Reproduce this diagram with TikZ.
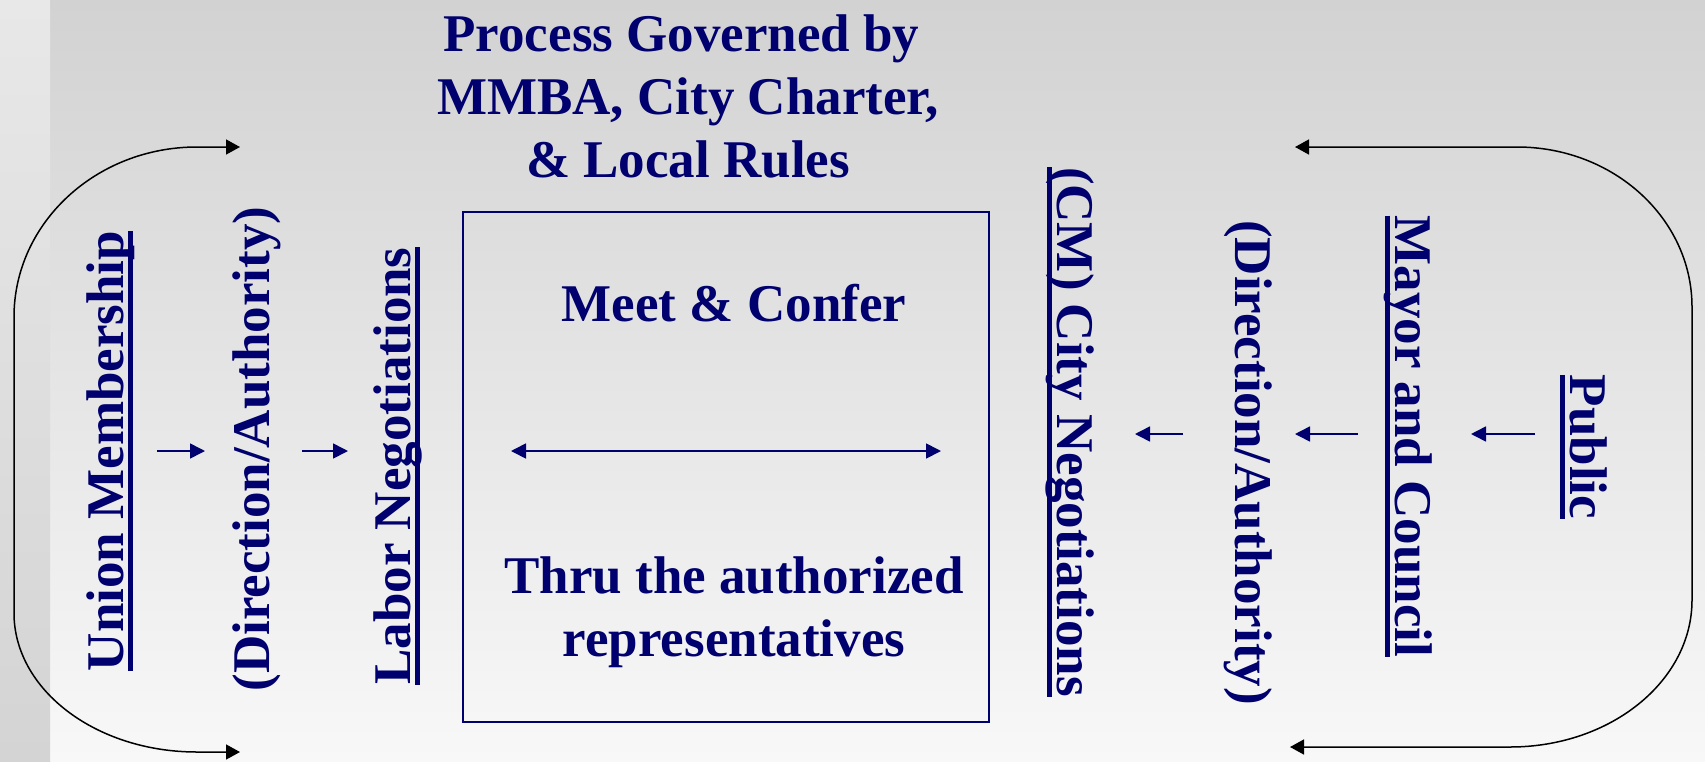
\documentclass[tikz,border=0pt]{standalone}
\usepackage{fontspec}
\setmainfont{Liberation Serif}
\usetikzlibrary{arrows.meta}
\definecolor{navy}{RGB}{0,0,110}
\definecolor{bgtop}{RGB}{210,210,210}
\definecolor{bgbot}{RGB}{248,248,248}
\definecolor{striptop}{RGB}{232,232,232}
\definecolor{stripbot}{RGB}{212,212,212}
% underline drawn at a fixed depth below the baseline
\newcommand\ulword[1]{\setbox0\hbox{#1}\rlap{\rule[-0.19em]{\wd0}{0.09em}}\box0}
\begin{document}
\begin{tikzpicture}[x=1pt,y=1pt,
  big/.style={text=navy,font=\bfseries\fontsize{53}{63}\selectfont,inner sep=0pt},
  head/.style={big,align=center},
  upword/.style={big,rotate=90,anchor=base},
  downword/.style={big,rotate=-90,anchor=base},
  flow/.style={draw=navy,line width=1.6pt,-{Triangle[length=15pt,width=15pt]}},
  loop/.style={draw=black,line width=1.5pt,{Triangle[length=14pt,width=15pt]}-{Triangle[length=14pt,width=15pt]}}]
\useasboundingbox (0,0) rectangle (1705,-761);
% background
\shade[top color=bgtop,bottom color=bgbot] (50,0) rectangle (1705,-761);
\shade[top color=striptop,bottom color=stripbot] (0,0) rectangle (50,-761);

% heading
\node[head] (title) at (688,-96) {Process Governed by\kern13pt\\MMBA, City Charter,\\\& Local Rules};

% central box
\node[draw=navy,line width=2pt,minimum width=526pt,minimum height=510pt,inner sep=0pt] (box) at (726,-467) {};
\node[big,anchor=base] (meet) at (734,-321) {Meet \& Confer};
\node[big,align=center] (thru) at (734,-612.3) {Thru the authorized\\representatives};
\coordinate (mcl) at (511,-451);
\coordinate (mcr) at (941,-451);
\draw[draw=navy,line width=1.7pt,{Triangle[length=15pt,width=15pt]}-{Triangle[length=15pt,width=15pt]}] (mcl) -- (mcr);

% union side
\node[upword] (union) at (123,-451) {\ulword{Union Membership}};
\node[upword] (dirl) at (269,-449) {(Direction/Authority)};
\node[upword] (labor) at (410,-466) {\ulword{Labor Negotiations}};
\coordinate (l1a) at (157,-451); \coordinate (l1b) at (205,-451);
\coordinate (l2a) at (302,-451); \coordinate (l2b) at (348,-451);
\draw[flow] (l1a) -- (l1b);
\draw[flow] (l2a) -- (l2b);

% city side
\node[downword] (cm) at (1057,-432) {\ulword{(CM) City Negotiations}};
\node[downword] (dirr) at (1235,-462.5) {(Direction/Authority)};
\node[downword] (mayor) at (1395,-436.5) {\ulword{Mayor and Council}};
\node[downword] (public) at (1570,-447) {\ulword{Public}};
\coordinate (r1a) at (1183,-434); \coordinate (r1b) at (1135,-434);
\coordinate (r2a) at (1358,-434); \coordinate (r2b) at (1295,-434);
\coordinate (r3a) at (1535,-434); \coordinate (r3b) at (1471,-434);
\draw[flow] (r1a) -- (r1b);
\draw[flow] (r2a) -- (r2b);
\draw[flow] (r3a) -- (r3b);

% feedback loops
\coordinate (lt) at (240,-147);
\coordinate (lb) at (240,-752);
\draw[loop] (lb) -- (197,-752)
  arc[start angle=270,end angle=180,x radius=183,y radius=139]
  -- (14,-317)
  arc[start angle=180,end angle=90,x radius=183,y radius=170]
  -- (lt);
\coordinate (rt) at (1295,-147);
\coordinate (rb) at (1290,-747);
\draw[loop] (rt) -- (1517,-147)
  arc[start angle=90,end angle=0,x radius=175,y radius=160]
  -- (1692,-600)
  arc[start angle=0,end angle=-90,x radius=182,y radius=147]
  -- (rb);
\end{tikzpicture}
\end{document}
